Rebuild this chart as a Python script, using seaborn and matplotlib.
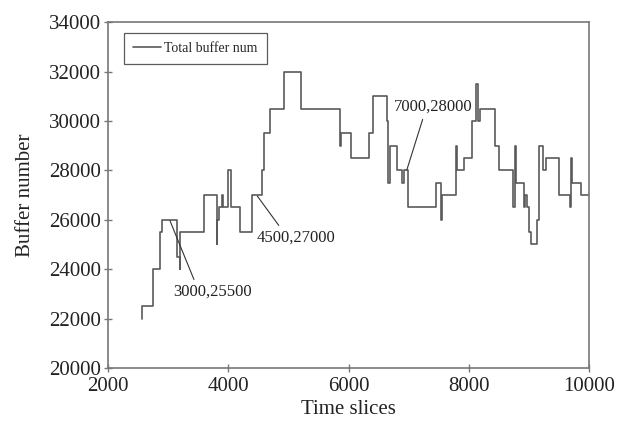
import numpy as np
import pandas as pd
import matplotlib
matplotlib.use("Agg")
import matplotlib.pyplot as plt
import seaborn as sns

# ===============================
# Data
# ===============================
time_slices = [2560, 2570, 2750, 2865, 2893, 3140, 3190, 3205, 3590, 3807,
               3820, 3850, 3890, 3920, 4000, 4040, 4195, 4390, 4565, 4600,
               4694, 4927, 5205, 5858, 5880, 6036, 6340, 6412, 6640, 6660,
               6680, 6811, 6884, 6928, 6984, 7450, 7538, 7560, 7787, 7809,
               7925, 8048, 8120, 8150, 8186, 8436, 8508, 8741, 8760, 8790,
               8918, 8935, 8973, 9005, 9030, 9140, 9173, 9229, 9284, 9505,
               9672, 9690, 9711, 9866, 10000]
buffer_num = [22000, 22500, 24000, 25500, 26000, 24500, 24000, 25500, 27000, 25000,
              26000, 26500, 27000, 26500, 28000, 26500, 25500, 27000, 28000, 29500,
              30500, 32000, 30500, 29000, 29500, 28500, 29500, 31000, 30000, 27500,
              29000, 28000, 27500, 28000, 26500, 27500, 26000, 27000, 29000, 28000,
              28500, 30000, 31500, 30000, 30500, 29000, 28000, 26500, 29000, 27500,
              26500, 27000, 26500, 25500, 25000, 26000, 29000, 28000, 28500, 27000,
              26500, 28500, 27500, 27000, 27000]

# annotated points, their labels and where the label text sits
note_points = [(3031, 25960), (4483, 26960), (6967, 28011)]
note_labels = ["3000,25500", "4500,27000", "7000,28000"]
note_text_pos = [(3081, 23075), (4473, 25272), (6745, 30572)]
note_relpos = [(0.29, 1.0), (0.32, 1.0), (0.39, 0.0)]

df = pd.DataFrame({"Time slices": time_slices, "Buffer number": buffer_num})

# ===============================
# Plot
# ===============================
sns.set_style("ticks")
plt.rcParams["font.family"] = ["Liberation Serif", "DejaVu Serif"]

fig, ax = plt.subplots(figsize=(6.17, 4.25), dpi=100)
fig.subplots_adjust(left=0.175, right=0.955, top=0.948, bottom=0.134)

sns.lineplot(data=df, x="Time slices", y="Buffer number", ax=ax,
             drawstyle="steps-post", estimator=None, color="#5a5a5a",
             linewidth=1.2, label="Total buffer num")

for (px, py), lab, (tx, ty), rp in zip(note_points, note_labels, note_text_pos, note_relpos):
    ax.annotate(lab, xy=(px, py), xytext=(tx, ty), fontsize=12, color="#222222",
                ha="left", va="center",
                arrowprops=dict(arrowstyle="-", color="#333333", lw=0.8,
                                shrinkA=1, shrinkB=0, relpos=rp))

ax.set_xlim(2000, 10000)
ax.set_ylim(20000, 34000)
ax.set_xticks(np.arange(2000, 10001, 2000))
ax.set_yticks(np.arange(20000, 34001, 2000))
ax.set_xlabel("Time slices", fontsize=15, color="#222222", labelpad=3)
ax.set_ylabel("Buffer number", fontsize=15, color="#222222", labelpad=10)
ax.tick_params(axis="both", direction="inout", length=6, width=1,
               labelsize=15, colors="#222222", color="#777777")
ax.tick_params(axis="y", pad=2)
for s in ax.spines.values():
    s.set_color("#777777")
    s.set_linewidth(1.2)

leg = ax.legend(loc="upper left", fontsize=10, frameon=True, fancybox=False,
                handlelength=2.0, handletextpad=0.25, borderpad=0.65,
                borderaxespad=0, bbox_to_anchor=(0.033, 0.968))
leg.get_frame().set_edgecolor("#333333")
leg.get_frame().set_linewidth(0.9)

plt.savefig("out.png", dpi=100)
